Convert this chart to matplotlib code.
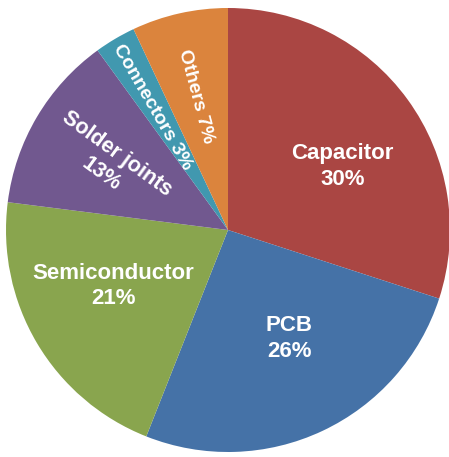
import matplotlib
matplotlib.use("Agg")
import matplotlib.pyplot as plt

# 部品別の故障要因の割合 (%)
labels = ["Capacitor", "PCB", "Semiconductor", "Solder joints", "Connectors", "Others"]
shares = [30, 26, 21, 13, 3, 7]
colors = ["#AA4643", "#4572A7", "#89A54E", "#71588F", "#4198AF", "#DB843D"]

# ラベルの置き場所 (データ座標) と回転角
label_pos = [(0.515, 0.285), (0.275, -0.487), (-0.515, -0.252),
             (-0.536, 0.297), (-0.342, 0.554), (-0.146, 0.601)]
label_rot = [0, 0, 0, -36, -60, -75]
label_sep = ["\n", "\n", "\n", "\n", " ", " "]
label_size = [16, 16, 16, 15.5, 14, 14]

plt.rcParams["font.family"] = ["Liberation Sans", "DejaVu Sans"]

fig = plt.figure(figsize=(4.49, 4.57), dpi=100)
ax = fig.add_axes([0, 0, 1, 1])
ax.pie(shares, colors=colors, startangle=90, counterclock=False,
       radius=1.0, center=(0, 0), wedgeprops={"linewidth": 0})

for name, val, (x, y), rot, sep, fs in zip(labels, shares, label_pos,
                                           label_rot, label_sep, label_size):
    ax.text(x, y, f"{name}{sep}{val}%", color="white", fontsize=fs,
            fontweight="bold", ha="center", va="center", rotation=rot,
            rotation_mode="anchor", multialignment="center", linespacing=1.3)

ax.set_xlim(-228 / 222, 221 / 222)
ax.set_ylim(-227 / 222, 230 / 222)
ax.set_aspect("auto")
ax.axis("off")

fig.savefig("out.png", dpi=100)
